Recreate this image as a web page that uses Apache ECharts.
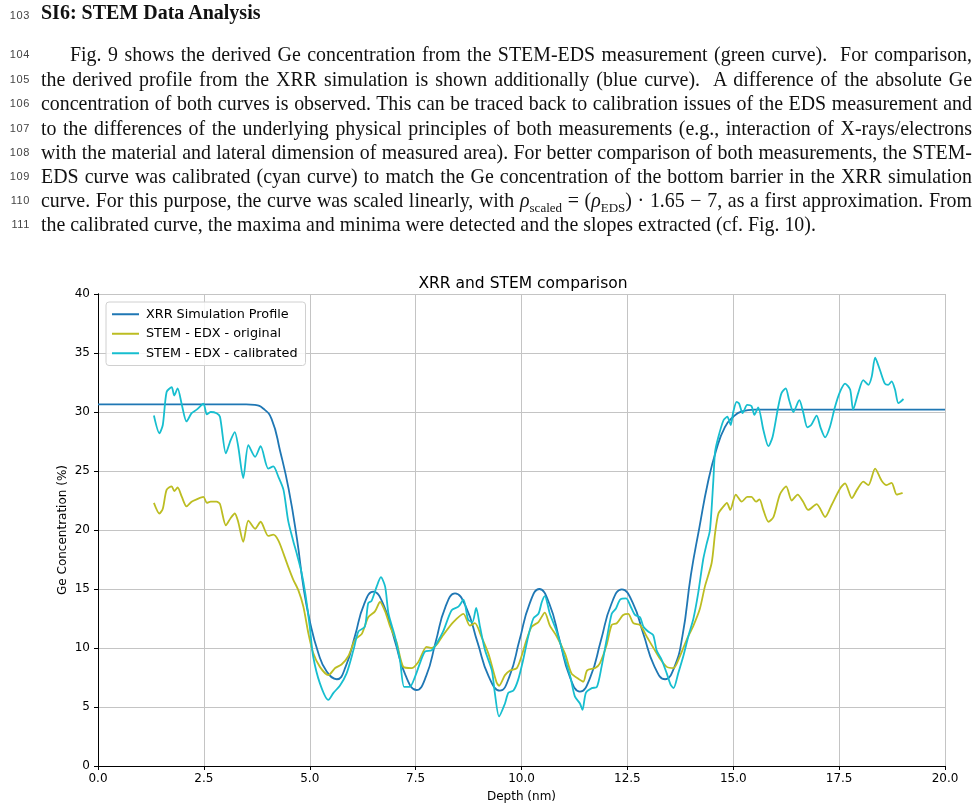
<!DOCTYPE html>
<html>
<head>
<meta charset="utf-8">
<script src="https://cdn.jsdelivr.net/npm/echarts@6/dist/echarts.min.js"></script>
<style>
  html, body { margin: 0; padding: 0; background: #fff; }
  body { width: 980px; height: 812px; position: relative; overflow: hidden; }
  #chart { position: absolute; left: 0; top: 0; width: 980px; height: 812px; }
  .ln { position: absolute; left: 0; width: 30px; text-align: right; font: 11px "Liberation Sans", sans-serif;
        letter-spacing: 0.6px; color: #444; }
  .tx { position: absolute; left: 41px; width: 931px; font: 19.9px "Liberation Serif", serif; color: #111;
        line-height: 24px; white-space: nowrap; text-align: justify; text-align-last: justify; }
  .tx.last { text-align-last: left; }
  .tx sub { font-size: 13px; line-height: 0; }
  h1 { position: absolute; left: 41px; top: 1px; margin: 0; font: bold 20px "Liberation Serif", serif; color: #111; }
</style>
</head>
<body>
<div id="chart"></div>

<div class="ln" style="top:9px">103</div>
<h1>SI6: STEM Data Analysis</h1>

<div class="ln" style="top:48px">104</div>
<div class="tx" style="top:42px; padding-left:29px; width:902px">Fig. 9 shows the derived Ge concentration from the STEM-EDS measurement (green curve).&nbsp; For comparison,</div>
<div class="ln" style="top:73px">105</div>
<div class="tx" style="top:67px">the derived profile from the XRR simulation is shown additionally (blue curve).&nbsp; A difference of the absolute Ge</div>
<div class="ln" style="top:97px">106</div>
<div class="tx" style="top:91px">concentration of both curves is observed. This can be traced back to calibration issues of the EDS measurement and</div>
<div class="ln" style="top:122px">107</div>
<div class="tx" style="top:116px">to the differences of the underlying physical principles of both measurements (e.g., interaction of X-rays/electrons</div>
<div class="ln" style="top:146px">108</div>
<div class="tx" style="top:140px">with the material and lateral dimension of measured area). For better comparison of both measurements, the STEM-</div>
<div class="ln" style="top:170px">109</div>
<div class="tx" style="top:164px">EDS curve was calibrated (cyan curve) to match the Ge concentration of the bottom barrier in the XRR simulation</div>
<div class="ln" style="top:194px">110</div>
<div class="tx" style="top:188px">curve. For this purpose, the curve was scaled linearly, with <i>ρ</i><sub>scaled</sub> = (<i>ρ</i><sub>EDS</sub>) · 1.65 − 7, as a first approximation. From</div>
<div class="ln" style="top:218px">111</div>
<div class="tx last" style="top:212px">the calibrated curve, the maxima and minima were detected and the slopes extracted (cf. Fig. 10).</div>

<script>
// XRR simulation profile (smooth model curve)
const xrrDepth = [0, 1, 2, 3, 3.5, 3.7, 3.9, 4.1, 4.3, 4.5, 4.7, 4.85, 5.0, 5.2, 5.4, 5.64,
  5.85, 6.07, 6.28, 6.5, 6.755, 7.01, 7.265, 7.52, 7.75, 7.975, 8.2, 8.43, 8.695, 8.96, 9.225, 9.49,
  9.72, 9.955, 10.19, 10.42, 10.66, 10.9, 11.14, 11.38, 11.63, 11.875, 12.12, 12.37, 12.625, 12.88, 13.135, 13.39,
  13.6, 13.8, 14.0, 14.2, 14.4, 14.6, 14.8, 15.0, 15.2, 15.5, 17, 18.5, 20];
const xrrGe = [30.65, 30.65, 30.65, 30.65, 30.65, 30.6, 30.3, 29.4, 26.7, 23.5, 19.2, 15.2, 12.3, 9.6, 8.0, 7.35,
  8.44, 11.06, 13.68, 14.77, 13.55, 10.6, 7.65, 6.44, 7.64, 10.54, 13.44, 14.63, 13.42, 10.5, 7.59, 6.38,
  7.64, 10.69, 13.74, 15.0, 13.73, 10.65, 7.57, 6.3, 7.57, 10.64, 13.71, 14.97, 13.85, 11.16, 8.47, 7.35,
  8.3, 11.0, 16.2, 20.2, 24.0, 26.8, 28.7, 29.6, 30.05, 30.2, 30.2, 30.2, 30.2];

// STEM - EDX, as measured
const origDepth = [1.32, 1.45, 1.53, 1.62, 1.74, 1.80, 1.88, 1.98, 2.09, 2.21, 2.33, 2.49, 2.57, 2.66, 2.80, 2.88,
  3.02, 3.13, 3.23, 3.31, 3.43, 3.55, 3.71, 3.84, 4.02, 4.14, 4.26, 4.38, 4.49, 4.61, 4.73, 4.85, 4.97,
  5.08, 5.24, 5.44, 5.60, 5.75, 5.91, 6.07, 6.23, 6.38, 6.54, 6.66, 6.78, 6.90, 7.05, 7.21, 7.40, 7.56,
  7.76, 7.88, 8.00, 8.15, 8.39, 8.63, 8.78, 8.90, 9.06, 9.22, 9.41, 9.47, 9.61, 9.73, 9.89, 10.00,
  10.12, 10.24, 10.40, 10.55, 10.67, 10.83, 11.03, 11.18, 11.34, 11.46, 11.55, 11.74, 11.85, 12.01,
  12.13, 12.25, 12.40, 12.52, 12.64, 12.80, 12.96, 13.15, 13.27, 13.43, 13.59, 13.74, 13.90, 14.06,
  14.21, 14.33, 14.49, 14.57, 14.65, 14.77, 14.85, 14.93, 15.06, 15.20, 15.33, 15.43, 15.54, 15.62,
  15.71, 15.83, 15.95, 16.10, 16.25, 16.38, 16.52, 16.65, 16.77, 16.97, 17.17, 17.32, 17.52, 17.64,
  17.80, 17.92, 18.07, 18.19, 18.35, 18.50, 18.62, 18.74, 18.86, 19.00];
const origGe = [22.3, 21.4, 21.8, 23.4, 23.7, 23.3, 23.6, 22.8, 22.0, 22.4, 22.6, 22.8, 22.3, 22.4, 22.4, 22.2,
  20.4, 21.0, 21.4, 20.7, 19.0, 20.8, 20.1, 20.7, 19.5, 19.6, 19.1, 18.0, 16.9, 15.8, 14.9, 13.5, 11.2,
  9.6, 8.4, 7.7, 8.3, 8.6, 9.3, 10.7, 11.2, 12.6, 13.1, 13.9, 13.1, 11.8, 10.5, 8.4, 8.3, 8.8,
  10.1, 10.0, 10.3, 11.1, 12.2, 12.9, 11.9, 12.1, 10.9, 9.5, 7.1, 6.8, 7.7, 8.1, 8.3, 9.3,
  10.7, 11.8, 12.2, 13.0, 11.9, 11.0, 9.5, 7.85, 7.4, 7.15, 8.1, 8.3, 8.7, 10.25,
  11.95, 12.1, 12.8, 12.9, 12.1, 11.95, 10.95, 9.8, 9.1, 8.4, 8.3, 9.3, 10.7, 11.9,
  13.3, 15.2, 17.2, 19.7, 21.4, 22.0, 22.3, 21.7, 23.0, 22.4, 22.8, 22.8, 22.4, 22.6,
  21.7, 20.7, 21.1, 23.0, 23.7, 22.5, 23.0, 22.4, 21.7, 22.2, 21.1, 22.1, 23.5, 23.95,
  22.7, 23.4, 24.1, 23.8, 25.2, 24.2, 23.8, 24.0, 23.0, 23.15];

// STEM - EDX after calibration
const calDepth = [1.32, 1.45, 1.53, 1.62, 1.74, 1.80, 1.88, 1.98, 2.09, 2.21, 2.33, 2.49, 2.57, 2.66, 2.80, 2.88,
  3.02, 3.13, 3.23, 3.31, 3.43, 3.55, 3.71, 3.84, 4.02, 4.14, 4.26, 4.38, 4.49, 4.60, 4.70, 4.80, 4.90,
  5.00, 5.08, 5.24, 5.44, 5.56, 5.71, 5.87, 6.03, 6.15, 6.30, 6.38, 6.46, 6.58, 6.68, 6.78, 6.86, 7.01,
  7.13, 7.23, 7.36, 7.49, 7.60, 7.72, 7.88, 8.00, 8.15, 8.35, 8.51, 8.63, 8.74, 8.84, 8.93, 9.02, 9.14,
  9.30, 9.37, 9.47, 9.61, 9.69, 9.81, 9.92, 10.04, 10.16, 10.28, 10.40, 10.48, 10.55, 10.67, 10.83,
  10.99, 11.15, 11.26, 11.38, 11.44, 11.52, 11.66, 11.78, 11.89, 12.01, 12.13, 12.23, 12.33, 12.47,
  12.58, 12.68, 12.80, 12.88, 12.99, 13.11, 13.19, 13.31, 13.43, 13.52, 13.59, 13.70, 13.82, 13.94,
  14.06, 14.17, 14.29, 14.37, 14.45, 14.53, 14.57, 14.65, 14.77, 14.86, 14.94, 15.00, 15.08, 15.14,
  15.22, 15.33, 15.43, 15.50, 15.59, 15.71, 15.83, 15.93, 16.06, 16.14, 16.24, 16.32, 16.42, 16.56,
  16.65, 16.75, 16.84, 16.97, 17.06, 17.17, 17.28, 17.40, 17.52, 17.64, 17.76, 17.83, 17.95, 18.07,
  18.19, 18.27, 18.35, 18.46, 18.58, 18.66, 18.74, 18.82, 18.90, 19.02];
const calGe = [29.7, 28.2, 28.9, 31.7, 32.1, 31.4, 32.0, 30.6, 29.2, 29.9, 30.2, 30.7, 29.8, 30.0, 29.9, 29.6,
  26.5, 27.6, 28.3, 27.1, 24.4, 27.2, 26.2, 27.1, 25.2, 25.4, 24.5, 23.4, 20.8, 19.2, 17.9, 16.5, 14.5,
  11.8, 9.3, 7.0, 5.6, 6.2, 6.8, 7.85, 9.8, 11.4, 11.8, 13.8, 14.0, 15.2, 16.0, 15.2, 12.9, 11.0,
  9.0, 6.7, 6.7, 7.6, 8.7, 9.7, 9.8, 10.4, 11.4, 13.2, 13.5, 14.1, 12.4, 12.2, 13.4, 11.8, 9.8,
  8.1, 6.2, 4.2, 5.3, 6.2, 6.4, 7.3, 9.0, 11.0, 12.5, 12.9, 13.9, 14.4, 12.9, 11.4,
  9.5, 7.6, 5.9, 5.3, 4.75, 6.2, 6.6, 6.7, 8.4, 10.7, 12.9, 13.35, 14.1, 14.2,
  13.5, 12.8, 12.6, 11.8, 11.4, 11.1, 9.8, 9.0, 7.85, 6.9, 6.6, 7.85, 9.3, 11.0,
  12.5, 14.6, 17.5, 18.8, 20.0, 24.2, 26.6, 27.9, 29.3, 29.6, 28.9, 30.0, 30.85, 30.7,
  29.9, 30.6, 30.5, 29.75, 30.4, 28.5, 27.1, 27.9, 30.4, 31.6, 32.0, 31.0, 30.0, 31.0,
  30.0, 28.7, 28.9, 29.7, 28.7, 27.85, 28.7, 30.4, 31.7, 32.4, 31.9, 30.2, 31.6, 32.7,
  32.3, 33.0, 34.6, 33.6, 32.4, 32.3, 32.6, 31.9, 30.75, 31.1];

const xTicks = { min: 0, max: 20, interval: 2.5 };
const yTicks = { min: 0, max: 40, interval: 5 };

const pairs = (xs, ys) => xs.map((x, i) => [x, ys[i]]);

const FONT = '"DejaVu Sans", sans-serif';
const GRID_COLOR = '#c4c4c4';

const lineSeries = (name, data, color, smooth) => ({
  name,
  type: 'line',
  data,
  symbol: 'none',
  smooth,
  lineStyle: { color, width: 1.8 },
  itemStyle: { color },
  animation: false,
});

const chart = echarts.init(document.getElementById('chart'), null, { renderer: 'canvas' });

chart.setOption({
  backgroundColor: 'transparent',
  animation: false,
  title: {
    text: 'XRR and STEM comparison',
    left: 518,
    top: 271,
    textAlign: 'center',
    textStyle: { fontFamily: FONT, fontSize: 15.5, fontWeight: 'normal', color: '#000' },
  },
  legend: {
    orient: 'vertical',
    left: 106,
    top: 302,
    icon: 'rect',
    itemWidth: 27,
    itemHeight: 2,
    itemGap: 5,
    padding: [5, 8, 5, 6],
    backgroundColor: 'rgba(255,255,255,0.85)',
    borderColor: '#d0d0d0',
    borderWidth: 1,
    borderRadius: 3,
    textStyle: { fontFamily: FONT, fontSize: 12.8, color: '#000', lineHeight: 14.5, padding: [0, 0, 0, 2] },
    data: ['XRR Simulation Profile', 'STEM - EDX - original', 'STEM - EDX - calibrated'],
  },
  grid: { left: 98, right: 35, top: 294, bottom: 46 },
  xAxis: [
    {
      type: 'value',
      ...xTicks,
      name: 'Depth (nm)',
      nameLocation: 'middle',
      nameGap: 25,
      nameMoveOverlap: false,
      nameTextStyle: { fontFamily: FONT, fontSize: 12, color: '#000' },
      axisLine: { lineStyle: { color: '#000', width: 1 } },
      axisTick: { show: true, length: 4, lineStyle: { color: '#000' } },
      axisLabel: { fontFamily: FONT, fontSize: 12, color: '#000', margin: 7, formatter: (v) => v.toFixed(1) },
      splitLine: { show: true, lineStyle: { color: GRID_COLOR, width: 1 } },
    },
    {
      type: 'value',
      ...xTicks,
      position: 'top',
      axisLine: { show: true, lineStyle: { color: '#000', width: 1 } },
      axisTick: { show: false },
      axisLabel: { show: false },
      splitLine: { show: false },
    },
  ],
  yAxis: [
    {
      type: 'value',
      ...yTicks,
      name: 'Ge Concentration (%)',
      nameLocation: 'middle',
      nameGap: 29,
      nameMoveOverlap: false,
      nameTextStyle: { fontFamily: FONT, fontSize: 12, color: '#000' },
      axisLine: { show: true, lineStyle: { color: '#000', width: 1 } },
      axisTick: { show: true, length: 4, lineStyle: { color: '#000' } },
      axisLabel: { fontFamily: FONT, fontSize: 12, color: '#000', margin: 8 },
      splitLine: { show: true, lineStyle: { color: GRID_COLOR, width: 1 } },
    },
    {
      type: 'value',
      ...yTicks,
      position: 'right',
      axisLine: { show: true, lineStyle: { color: '#000', width: 1 } },
      axisTick: { show: false },
      axisLabel: { show: false },
      splitLine: { show: false },
    },
  ],
  series: [
    lineSeries('XRR Simulation Profile', pairs(xrrDepth, xrrGe), '#1f77b4', 0.5),
    lineSeries('STEM - EDX - original', pairs(origDepth, origGe), '#bcbd22', 0.25),
    lineSeries('STEM - EDX - calibrated', pairs(calDepth, calGe), '#17becf', 0.25),
  ],
});
</script>
</body>
</html>
